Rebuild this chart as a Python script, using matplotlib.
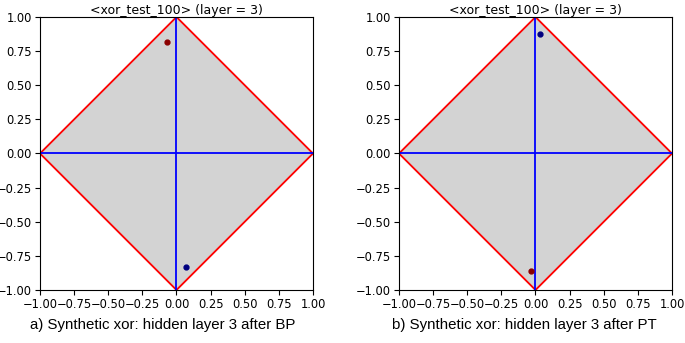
import numpy as np
import matplotlib.pyplot as plt

# diamond corners
dx = [1, 0, -1, 0, 1]
dy = [0, 1, 0, -1, 0]

# hidden layer activations for the two xor classes
bp_red = ([-0.07], [0.82])
bp_blue = ([0.07], [-0.83])
pt_red = ([-0.03], [-0.86])
pt_blue = ([0.03], [0.875])

ticks = [-1.0, -0.75, -0.5, -0.25, 0.0, 0.25, 0.5, 0.75, 1.0]

fig = plt.figure(figsize=(6.85, 3.43), dpi=100)
ax1 = fig.add_axes([0.0584, 0.1545, 0.3985, 0.796])
ax2 = fig.add_axes([0.5825, 0.1545, 0.3985, 0.796])

panels = [
    (ax1, bp_red, bp_blue, "a) Synthetic xor: hidden layer 3 after BP", 0.238),
    (ax2, pt_red, pt_blue, "b) Synthetic xor: hidden layer 3 after PT", 0.766),
]

for ax, red, blue, caption, cx in panels:
    ax.fill(dx, dy, color="lightgray", zorder=1)
    ax.plot(dx, dy, color="red", lw=1.3, zorder=2)
    ax.plot([-1, 1], [0, 0], color="blue", lw=1.3, zorder=2)
    ax.plot([0, 0], [-1, 1], color="blue", lw=1.3, zorder=2)
    ax.plot(red[0], red[1], "o", color="darkred", ms=3.5, zorder=3)
    ax.plot(blue[0], blue[1], "o", color="navy", ms=3.5, zorder=3)
    ax.set_xlim(-1, 1)
    ax.set_ylim(-1, 1)
    ax.set_xticks(ticks)
    ax.set_yticks(ticks)
    ax.tick_params(labelsize=8.3, pad=2.5)
    ax.set_title("<xor_test_100> (layer = 3)", fontsize=9, pad=2)
    fig.text(cx, 0.052, caption, ha="center", va="center",
             fontsize=10.8, family="Liberation Sans")

fig.savefig("out.png", dpi=100)
